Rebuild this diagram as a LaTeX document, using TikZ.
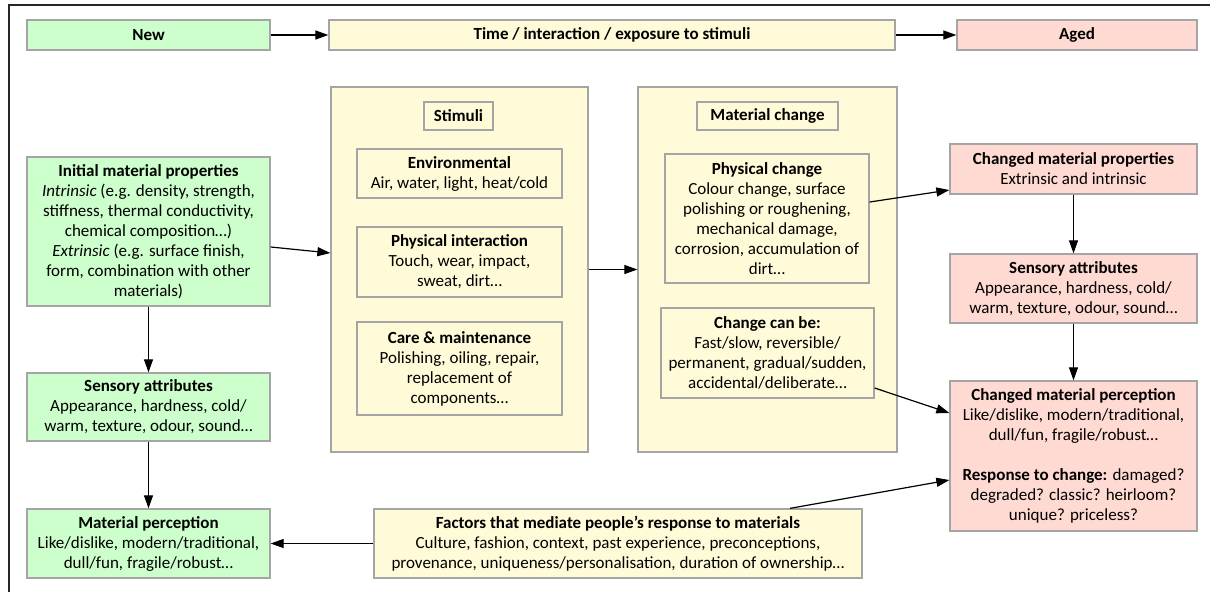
\documentclass[tikz,border=0pt]{standalone}
\usepackage{fontspec}
\setmainfont{Carlito}
\usetikzlibrary{arrows.meta}
\definecolor{gfill}{RGB}{204,255,204}
\definecolor{yfill}{RGB}{255,250,215}
\definecolor{pfill}{RGB}{255,218,210}
\definecolor{edgegrey}{RGB}{165,165,165}
\newcommand\fs{\fontsize{17}{20}\selectfont}
\begin{document}
\begin{tikzpicture}[x=1pt,y=-1pt,
  bx/.style={draw=edgegrey, line width=1.3pt, align=center, font=\fs, inner sep=0pt, anchor=center},
  gbox/.style={bx, fill=gfill},
  ybox/.style={bx, fill=yfill},
  pbox/.style={bx, fill=pfill},
  arr/.style={-{Triangle[length=13pt,width=9pt]}, line width=1.2pt},
  wh/.style 2 args={minimum width=#1pt, minimum height=#2pt}]
\useasboundingbox (0,0) rectangle (1210,592);
\fill[white] (0,0) rectangle (1210,592);
\draw[line width=2pt, black!85] (9,592) -- (9,5) -- (1210,5);

% top row
\node[gbox, wh={243}{30}] (new) at (148.5,35) {\bfseries New};
\node[ybox, wh={566}{30}] (time) at (612,35) {\bfseries Time / interaction / exposure to stimuli};
\node[pbox, wh={240}{30}] (aged) at (1077,35) {\bfseries Aged};

% left column
\node[gbox, wh={243}{149}] (init) at (148.5,231.5) {\textbf{Initial material properties}\\
 \textit{Intrinsic} (e.g. density, strength,\\ stiffness, thermal conductivity,\\ chemical composition…)\\
 \textit{Extrinsic} (e.g. surface finish,\\ form, combination with other\\ materials)};
\node[gbox, wh={243}{68}] (sensl) at (148.5,407) {\textbf{Sensory attributes}\\ Appearance, hardness, cold/\\ warm, texture, odour, sound…};
\node[gbox, wh={243}{69}] (percl) at (148.5,543.5) {\textbf{Material perception}\\ Like/dislike, modern/traditional,\\ dull/fun, fragile/robust…};

% stimuli column
\node[ybox, wh={257}{365}] (stim) at (459.5,269.5) {};
\node[ybox, wh={69}{28}] (stimhdr) at (458.5,116) {\bfseries Stimuli};
\node[ybox, wh={205}{49}] (env) at (459.5,173.5) {\textbf{Environmental}\\ Air, water, light, heat/cold};
\node[ybox, wh={205}{70}] (phys) at (459.5,262) {\textbf{Physical interaction}\\ Touch, wear, impact,\\ sweat, dirt…};
\node[ybox, wh={205}{93}] (care) at (459.5,368.5) {\textbf{Care \& maintenance}\\ Polishing, oiling, repair,\\ replacement of\\ components…};

% material change column
\node[ybox, wh={259}{365}] (mc) at (767.5,269.5) {};
\node[ybox, wh={141}{28}] (mchdr) at (767.5,116) {\bfseries Material change};
\node[ybox, wh={204}{129}] (physch) at (767,218.5) {\textbf{Physical change}\\ Colour change, surface\\ polishing or roughening,\\ mechanical damage,\\ corrosion, accumulation of\\ dirt…};
\node[ybox, wh={213}{90}] (canbe) at (767.5,353) {\textbf{Change can be:}\\ Fast/slow, reversible/\\ permanent, gradual/sudden,\\ accidental/deliberate…};

% right column
\node[pbox, wh={247}{50}] (cmp) at (1073.5,169) {\textbf{Changed material properties}\\ Extrinsic and intrinsic};
\node[pbox, wh={247}{69}] (sensr) at (1073.5,288.5) {\textbf{Sensory attributes}\\ Appearance, hardness, cold/\\ warm, texture, odour, sound…};
\node[pbox, wh={247}{150}] (percr) at (1073.5,456) {\textbf{Changed material perception}\\ Like/dislike, modern/traditional,\\ dull/fun, fragile/robust…\\[20pt]
 \textbf{Response to change:} damaged?\\ degraded? classic? heirloom?\\ unique? priceless?};

% factors
\node[ybox, wh={488}{69}] (fact) at (618,543.5) {\textbf{Factors that mediate people’s response to materials}\\ Culture, fashion, context, past experience, preconceptions,\\ provenance, uniqueness/personalisation, duration of ownership…};

% connectors
\draw[arr] (new) -- (time);
\draw[arr] (time) -- (aged);
\draw[arr] ([yshift=-15.5pt]init.east) -- ([yshift=16.5pt]stim.west);
\draw[arr] (stim.east) -- (mc.west);
\draw[arr] ([yshift=16.5pt]physch.east) -- ([yshift=-21pt]cmp.west);
\draw[arr] ([yshift=-35pt]canbe.east) -- ([yshift=43pt]percr.west);
\draw[arr] ([xshift=172pt]fact.north) -- ([yshift=-24pt]percr.west);
\draw[arr] (fact.west) -- (percl.east);
\draw[arr] (init) -- (sensl);
\draw[arr] (sensl) -- (percl);
\draw[arr] (cmp) -- (sensr);
\draw[arr] (sensr) -- (percr);
\end{tikzpicture}
\end{document}
